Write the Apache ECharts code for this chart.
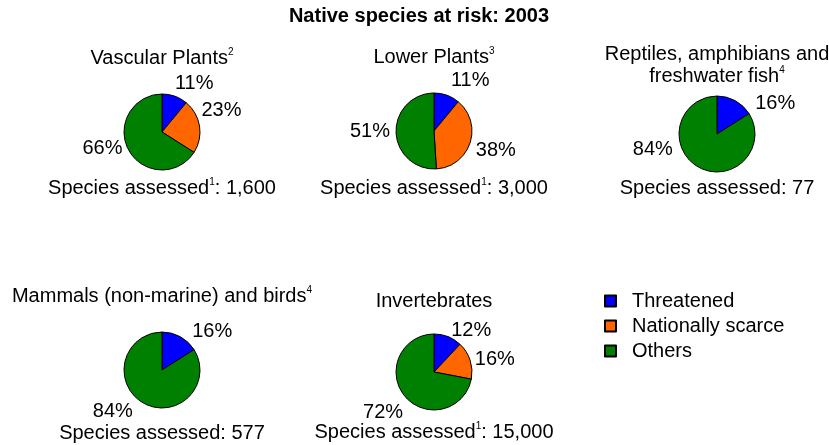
<!DOCTYPE html>
<html>
<head>
<meta charset="utf-8">
<script src="https://cdn.jsdelivr.net/npm/echarts@6/dist/echarts.min.js"></script>
<style>
  html, body { margin: 0; padding: 0; background: #fff; }
  #chart { width: 829px; height: 445px; }
</style>
</head>
<body>
<div id="chart"></div>
<script>
// data
var categories = ['Threatened', 'Nationally scarce', 'Others'];
var groupNames = ['Vascular Plants', 'Lower Plants', 'Reptiles, amphibians and\nfreshwater fish', 'Mammals (non-marine) and birds', 'Invertebrates'];
var nameNotes = ['2', '3', '4', '4', ''];
var threatened = [11, 11, 16, 16, 12];
var scarce = [23, 38, 0, 0, 16];
var others = [66, 51, 84, 84, 72];
var assessed = ['1,600', '3,000', '77', '577', '15,000'];
var assessedNotes = ['1', '1', '', '', '1'];

var colors = ['#0000FF', '#FF6600', '#008000'];
var font = "'Liberation Sans', Arial, sans-serif";
var fs = 20;

// layout of each small pie: centre, title/footer centre y, label nudges per category
var panels = [
  { cx: 162, cy: 132, titleY: 58, footY: 188, nudge: [[-7, -7], [-9, -15], [4, -5]] },
  { cx: 434, cy: 131, titleY: 57.5, footY: 188, nudge: [[-3, -9], [-5, 6], [5, -1]] },
  { cx: 717, cy: 134, titleY: 65.5, footY: 188, nudge: [[12, 8], [0, 0], [-18, -23]] },
  { cx: 162, cy: 370, titleY: 296.5, footY: 433, nudge: [[4, 0], [0, 0], [-3, 3]] },
  { cx: 434, cy: 372, titleY: 301.5, footY: 432, nudge: [[-4, -1], [-6, 1], [8, 12]] }
];

var rich = {
  sup: { fontSize: 10, fontFamily: font, color: '#000', verticalAlign: 'top', lineHeight: 10 }
};

function withNote(text, note) {
  return note ? text + '{sup|' + note + '}' : text;
}

var titles = [{
  text: 'Native species at risk: 2003',
  left: 419, top: 16.5, padding: 0,
  textAlign: 'center', textVerticalAlign: 'middle',
  textStyle: { fontSize: 20, fontWeight: 'bold', fontFamily: font, color: '#000' }
}];
var series = [];

function makeNudger(nudge, cats) {
  return function (params) {
    var d = nudge[cats[params.dataIndex]];
    return { dx: d[0], dy: d[1] };
  };
}

for (var i = 0; i < groupNames.length; i++) {
  var p = panels[i];
  titles.push({
    text: withNote(groupNames[i], nameNotes[i]),
    left: p.cx, top: p.titleY, padding: 0,
    textAlign: 'center', textVerticalAlign: 'middle',
    textStyle: { fontSize: fs, fontWeight: 'normal', fontFamily: font, color: '#000', lineHeight: 22, rich: rich }
  });
  titles.push({
    text: withNote('Species assessed', assessedNotes[i]) + ': ' + assessed[i],
    left: p.cx, top: p.footY, padding: 0,
    textAlign: 'center', textVerticalAlign: 'middle',
    textStyle: { fontSize: fs, fontWeight: 'normal', fontFamily: font, color: '#000', lineHeight: 22, rich: rich }
  });

  var values = [threatened[i], scarce[i], others[i]];
  var data = [];
  var cats = [];
  for (var k = 0; k < categories.length; k++) {
    if (values[k] > 0) {
      data.push({ name: categories[k], value: values[k], itemStyle: { color: colors[k] } });
      cats.push(k);
    }
  }
  series.push({
    type: 'pie',
    center: [p.cx, p.cy],
    radius: 38,
    startAngle: 90,
    clockwise: true,
    avoidLabelOverlap: false,
    data: data,
    itemStyle: { borderColor: '#000', borderWidth: 1 },
    label: {
      show: true,
      position: 'outside',
      formatter: '{c}%',
      fontSize: fs,
      fontFamily: font,
      color: '#000'
    },
    labelLine: { show: false, length: 6, length2: 0 },
    labelLayout: makeNudger(p.nudge, cats),
    emphasis: { disabled: true }
  });
}

var chart = echarts.init(document.getElementById('chart'));
chart.setOption({
  animation: false,
  backgroundColor: '#fff',
  title: titles,
  legend: {
    orient: 'vertical',
    left: 604,
    top: 291,
    padding: 0,
    itemWidth: 11,
    itemHeight: 11,
    itemGap: 5,
    icon: 'rect',
    data: categories,
    textStyle: { fontSize: fs, fontFamily: font, color: '#000', lineHeight: 20, padding: [0, 0, 0, 11] }
  },
  series: series
});
</script>
</body>
</html>
